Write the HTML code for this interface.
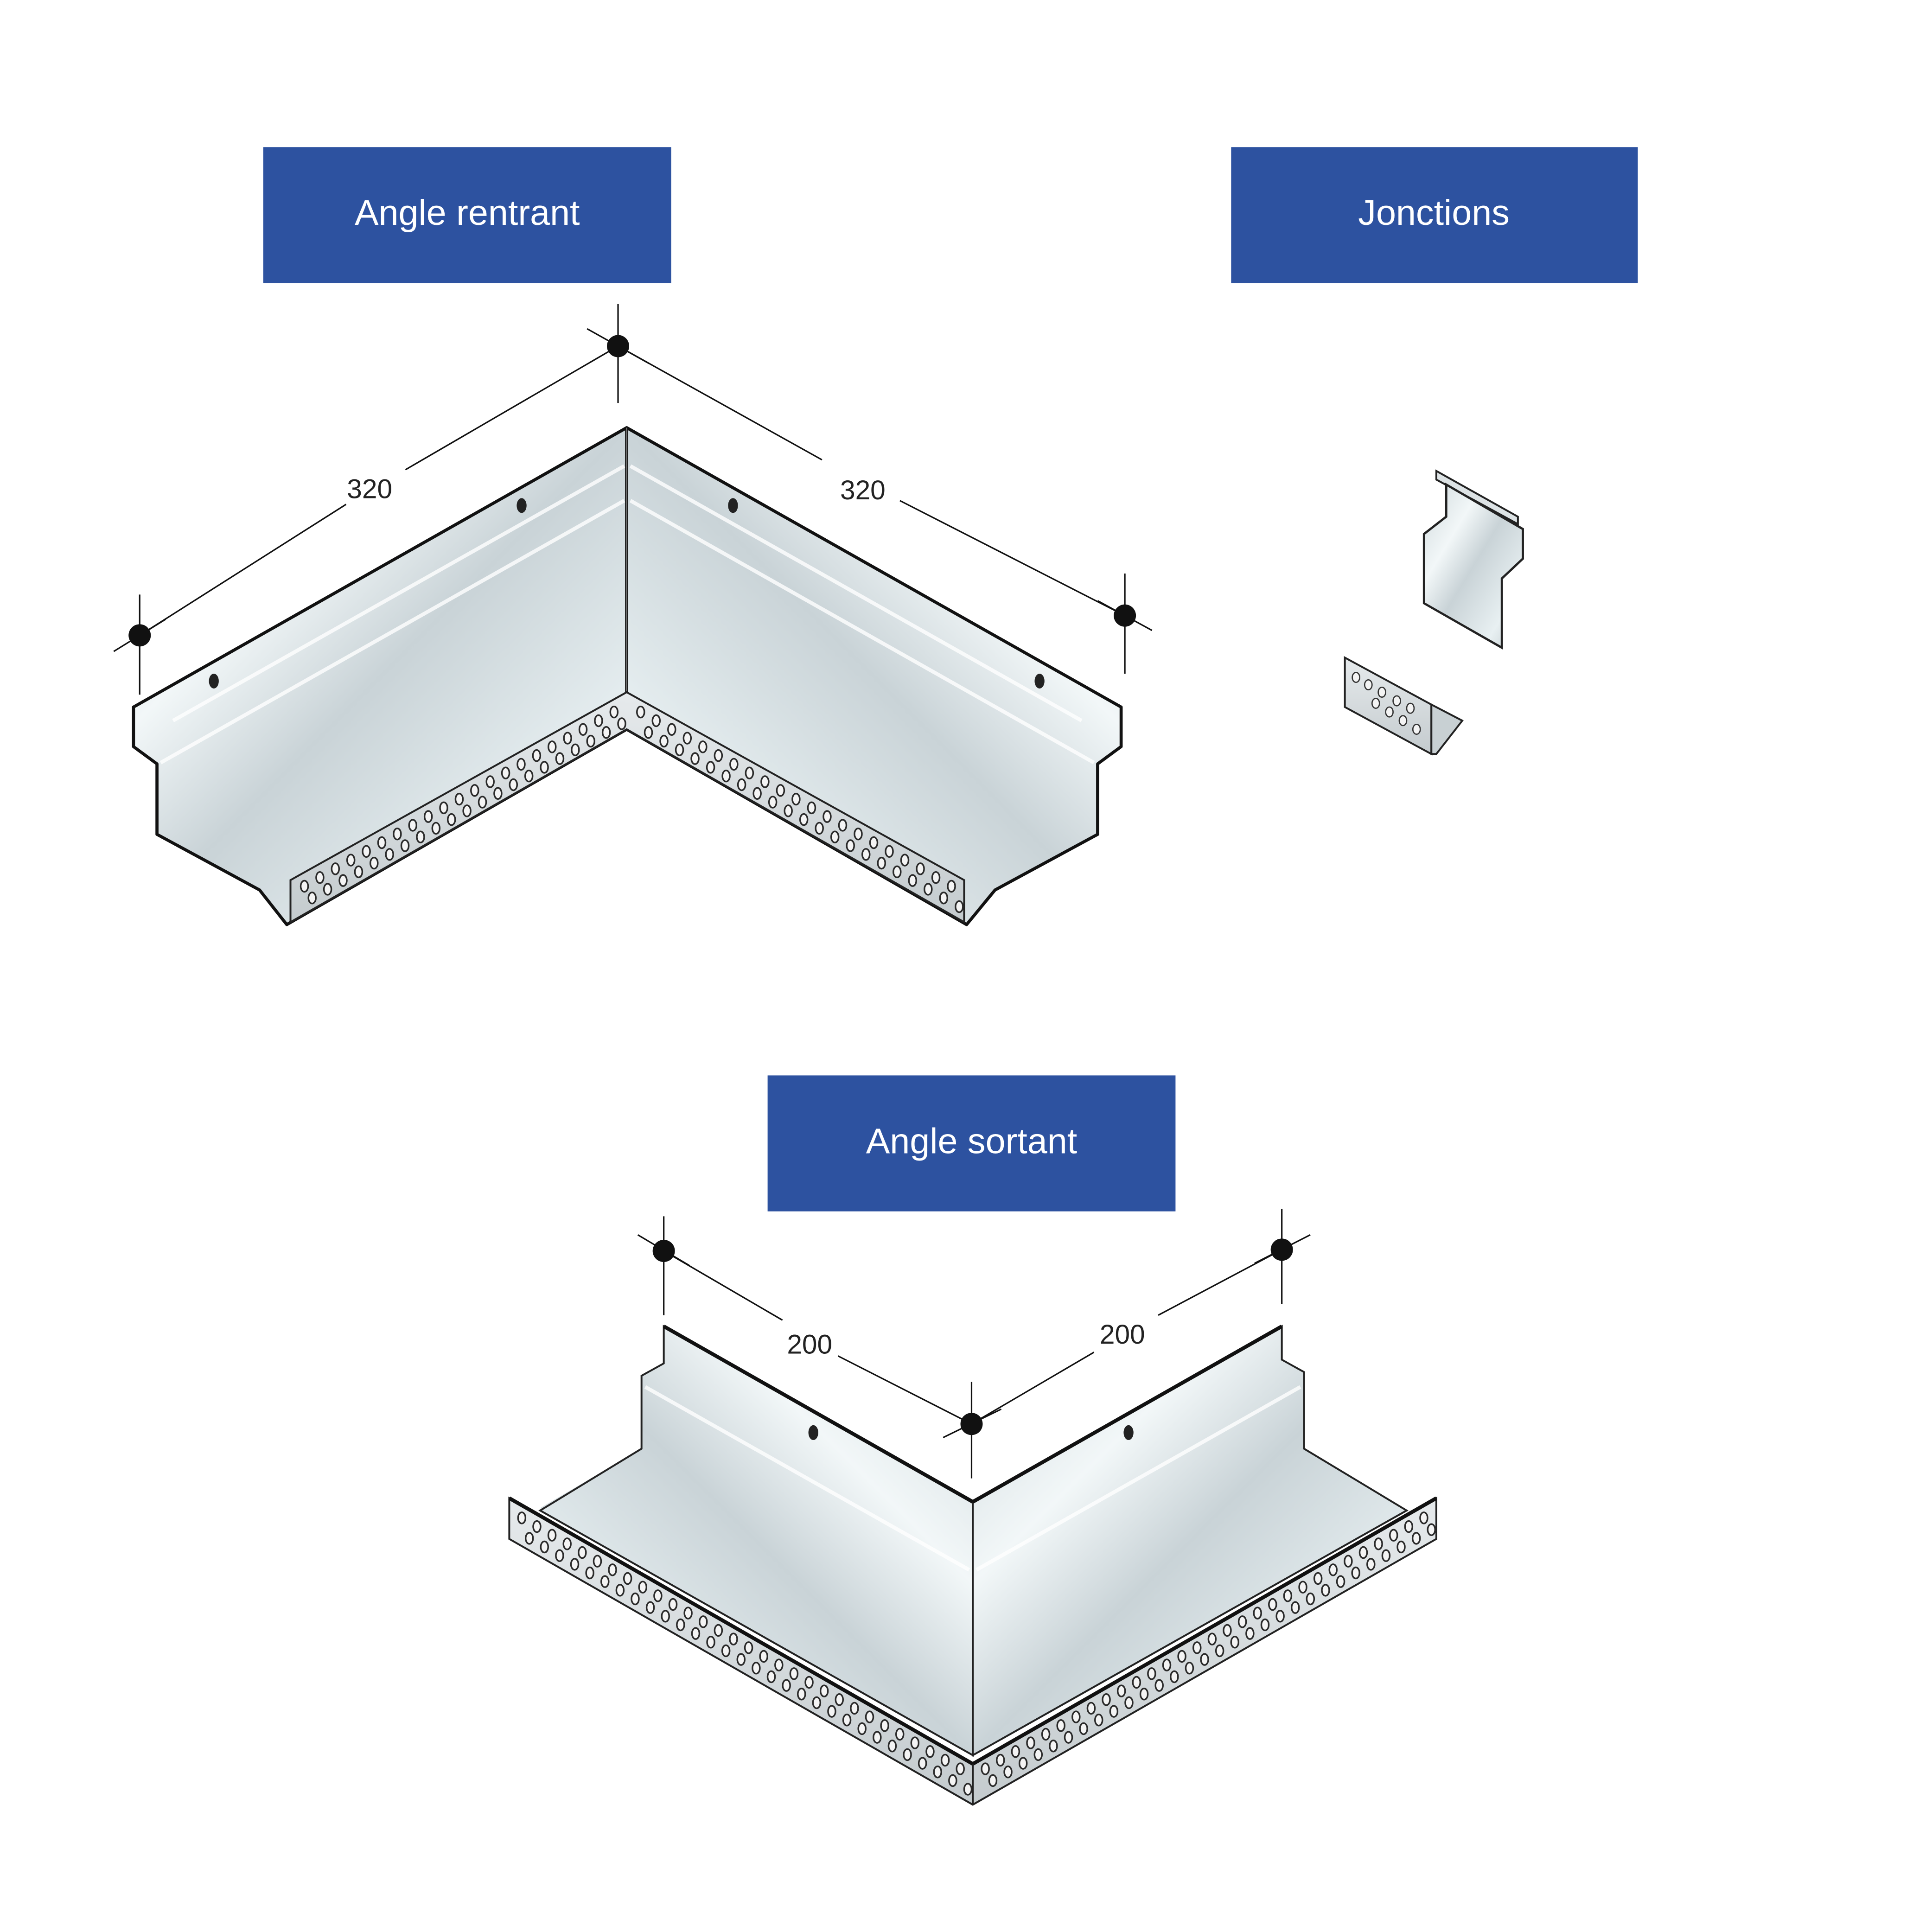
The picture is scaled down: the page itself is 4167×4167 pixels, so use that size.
<!DOCTYPE html>
<html><head><meta charset="utf-8">
<style>
html,body{margin:0;padding:0;background:#fff;}
svg{display:block;width:4167px;height:4167px;}
text{font-family:"Liberation Sans",Arial,sans-serif;}
</style></head>
<body>
<svg id="s" viewBox="0 0 1563 1563" xmlns="http://www.w3.org/2000/svg">
<defs>
<linearGradient id="gl" x1="0" y1="0" x2="1" y2="1">
<stop offset="0" stop-color="#cfd9dc"/><stop offset="0.3" stop-color="#f2f7f8"/><stop offset="0.5" stop-color="#c9d3d7"/><stop offset="0.8" stop-color="#e8f0f2"/><stop offset="1" stop-color="#c0cacd"/>
</linearGradient>
<linearGradient id="gr" x1="1" y1="0" x2="0" y2="1">
<stop offset="0" stop-color="#cfd9dc"/><stop offset="0.3" stop-color="#f2f7f8"/><stop offset="0.5" stop-color="#c9d3d7"/><stop offset="0.8" stop-color="#e8f0f2"/><stop offset="1" stop-color="#c0cacd"/>
</linearGradient>
<linearGradient id="gs" x1="0" y1="0" x2="0" y2="1">
<stop offset="0" stop-color="#e6eaec"/><stop offset="1" stop-color="#c4cbce"/>
</linearGradient>
</defs>

<rect x="213" y="119" width="330" height="110" fill="#2d52a0"/>
<text x="378" y="182" fill="#fff" font-size="29" text-anchor="middle">Angle rentrant</text>
<rect x="996" y="119" width="329" height="110" fill="#2d52a0"/>
<text x="1160" y="182" fill="#fff" font-size="29" text-anchor="middle">Jonctions</text>
<rect x="621" y="870" width="330" height="110" fill="#2d52a0"/>
<text x="786" y="933" fill="#fff" font-size="29" text-anchor="middle">Angle sortant</text>

<g stroke="#111" stroke-width="1.2">
<line x1="500" y1="246" x2="500" y2="326"/><line x1="475" y1="266" x2="525" y2="294"/>
<line x1="113" y1="481" x2="113" y2="562"/><line x1="92" y1="527" x2="134" y2="501"/>
<line x1="910" y1="464" x2="910" y2="545"/><line x1="888" y1="486" x2="932" y2="510"/>
<line x1="500" y1="280" x2="328" y2="380"/><line x1="280" y1="408" x2="113" y2="514"/>
<line x1="500" y1="280" x2="665" y2="372"/><line x1="728" y1="405" x2="910" y2="498"/>
</g>
<circle cx="500" cy="280" r="9" fill="#111"/><circle cx="113" cy="514" r="9" fill="#111"/><circle cx="910" cy="498" r="9" fill="#111"/>
<text x="299" y="403" font-size="22" text-anchor="middle" fill="#222">320</text>
<text x="698" y="404" font-size="22" text-anchor="middle" fill="#222">320</text>

<polygon points="507,346 108,572 108,604 127,618 127,675 210,720 232,748 507,590" fill="url(#gl)" stroke="#111" stroke-width="2.5" stroke-linejoin="round"/>
<polygon points="507,346 907,572 907,604 888,618 888,675 805,720 782,748 507,590" fill="url(#gr)" stroke="#111" stroke-width="2.5" stroke-linejoin="round"/>
<g stroke="#fff" stroke-width="3" opacity="0.8">
<line x1="140" y1="583" x2="505" y2="377"/><line x1="130" y1="617" x2="505" y2="405"/>
<line x1="510" y1="377" x2="875" y2="583"/><line x1="510" y1="405" x2="885" y2="617"/>
</g>
<line x1="507" y1="346" x2="507" y2="590" stroke="#777" stroke-width="1"/>
<polygon points="235,712 507,560 780,712 780,746 507,590 235,746" fill="url(#gs)" stroke="#222" stroke-width="1.5"/>
<ellipse cx="173" cy="551" rx="4" ry="6" fill="#222"/><ellipse cx="422" cy="409" rx="4" ry="6" fill="#222"/>
<ellipse cx="593" cy="409" rx="4" ry="6" fill="#222"/><ellipse cx="841" cy="551" rx="4" ry="6" fill="#222"/>
<g id="h1"></g>

<polygon points="1162,381 1228,418 1228,424 1162,388" fill="#dde3e5" stroke="#222" stroke-width="1.5"/>
<polygon points="1170,392 1232,428 1232,452 1215,468 1215,524 1152,488 1152,432 1170,418" fill="url(#gl)" stroke="#222" stroke-width="1.8"/>
<polygon points="1088,532 1158,570 1158,610 1088,572" fill="url(#gs)" stroke="#222" stroke-width="1.5"/>
<polygon points="1158,570 1183,583 1162,610 1158,610" fill="#c8d0d3" stroke="#222" stroke-width="1.5"/>
<g fill="#f4f4f4" stroke="#333" stroke-width="1"><ellipse cx="1097" cy="548" rx="3" ry="4"/><ellipse cx="1107" cy="554" rx="3" ry="4"/><ellipse cx="1118" cy="560" rx="3" ry="4"/><ellipse cx="1130" cy="567" rx="3" ry="4"/><ellipse cx="1141" cy="573" rx="3" ry="4"/>
<ellipse cx="1113" cy="569" rx="3" ry="4"/><ellipse cx="1124" cy="576" rx="3" ry="4"/><ellipse cx="1135" cy="583" rx="3" ry="4"/><ellipse cx="1146" cy="590" rx="3" ry="4"/></g>

<g stroke="#111" stroke-width="1.2">
<line x1="537" y1="984" x2="537" y2="1064"/><line x1="516" y1="999" x2="558" y2="1024"/>
<line x1="1037" y1="978" x2="1037" y2="1055"/><line x1="1015" y1="1022" x2="1060" y2="999"/>
<line x1="786" y1="1118" x2="786" y2="1196"/><line x1="763" y1="1163" x2="810" y2="1140"/>
<line x1="537" y1="1012" x2="633" y2="1068"/><line x1="678" y1="1097" x2="786" y2="1152"/>
<line x1="786" y1="1152" x2="885" y2="1094"/><line x1="937" y1="1064" x2="1037" y2="1011"/>
</g>
<circle cx="537" cy="1012" r="9" fill="#111"/><circle cx="1037" cy="1011" r="9" fill="#111"/><circle cx="786" cy="1152" r="9" fill="#111"/>
<text x="655" y="1095" font-size="22" text-anchor="middle" fill="#222">200</text>
<text x="908" y="1087" font-size="22" text-anchor="middle" fill="#222">200</text>

<polygon points="437,1220 519,1172 787,1325 787,1420" fill="#d5dee1"/>
<polygon points="1138,1222 1055,1172 787,1325 787,1420" fill="#d5dee1"/>
<polygon points="537,1073 787,1215 787,1420 437,1222 519,1172 519,1113 537,1103" fill="url(#gr)" stroke="#222" stroke-width="1.5"/>
<polygon points="1037,1073 787,1215 787,1420 1138,1222 1055,1172 1055,1110 1037,1100" fill="url(#gl)" stroke="#222" stroke-width="1.5"/>
<g stroke="#fff" stroke-width="3" opacity="0.8">
<line x1="522" y1="1122" x2="784" y2="1270"/><line x1="1052" y1="1122" x2="790" y2="1270"/>
</g>
<line x1="537" y1="1073" x2="787" y2="1215" stroke="#111" stroke-width="3"/>
<line x1="1037" y1="1073" x2="787" y2="1215" stroke="#111" stroke-width="3"/>
<polygon points="412,1212 787,1427 1162,1212 1162,1245 787,1460 412,1245" fill="url(#gs)" stroke="#222" stroke-width="1.5"/>
<line x1="412" y1="1212" x2="787" y2="1427" stroke="#111" stroke-width="3"/>
<line x1="1162" y1="1212" x2="787" y2="1427" stroke="#111" stroke-width="3"/>
<line x1="787" y1="1427" x2="787" y2="1460" stroke="#222" stroke-width="1.5"/>
<ellipse cx="658" cy="1159" rx="4" ry="6" fill="#222"/><ellipse cx="913" cy="1159" rx="4" ry="6" fill="#222"/>
<g id="h2"></g>
</svg>
<script>
var NS="http://www.w3.org/2000/svg";
function holes(g,x0,y0,x1,y1,n,dy){
 for(var r=0;r<2;r++)for(var i=0;i<n;i++){
  var t=(i+0.5+(r?0.5:0))/n;if(t>1)continue;
  var e=document.createElementNS(NS,"ellipse");
  e.setAttribute("cx",x0+(x1-x0)*t);e.setAttribute("cy",y0+(y1-y0)*t+r*dy+dy*0.5);
  e.setAttribute("rx",3);e.setAttribute("ry",4.5);e.setAttribute("fill","#f4f4f4");
  e.setAttribute("stroke","#2a2a2a");e.setAttribute("stroke-width","1.3");g.appendChild(e);}
}
var h1=document.getElementById("h1"),h2=document.getElementById("h2");
holes(h1,240,714,503,566,21,13);
holes(h1,512,566,776,714,21,13);
holes(h2,416,1218,783,1428,30,13);
holes(h2,791,1428,1158,1218,30,13);
</script>
</body></html>
